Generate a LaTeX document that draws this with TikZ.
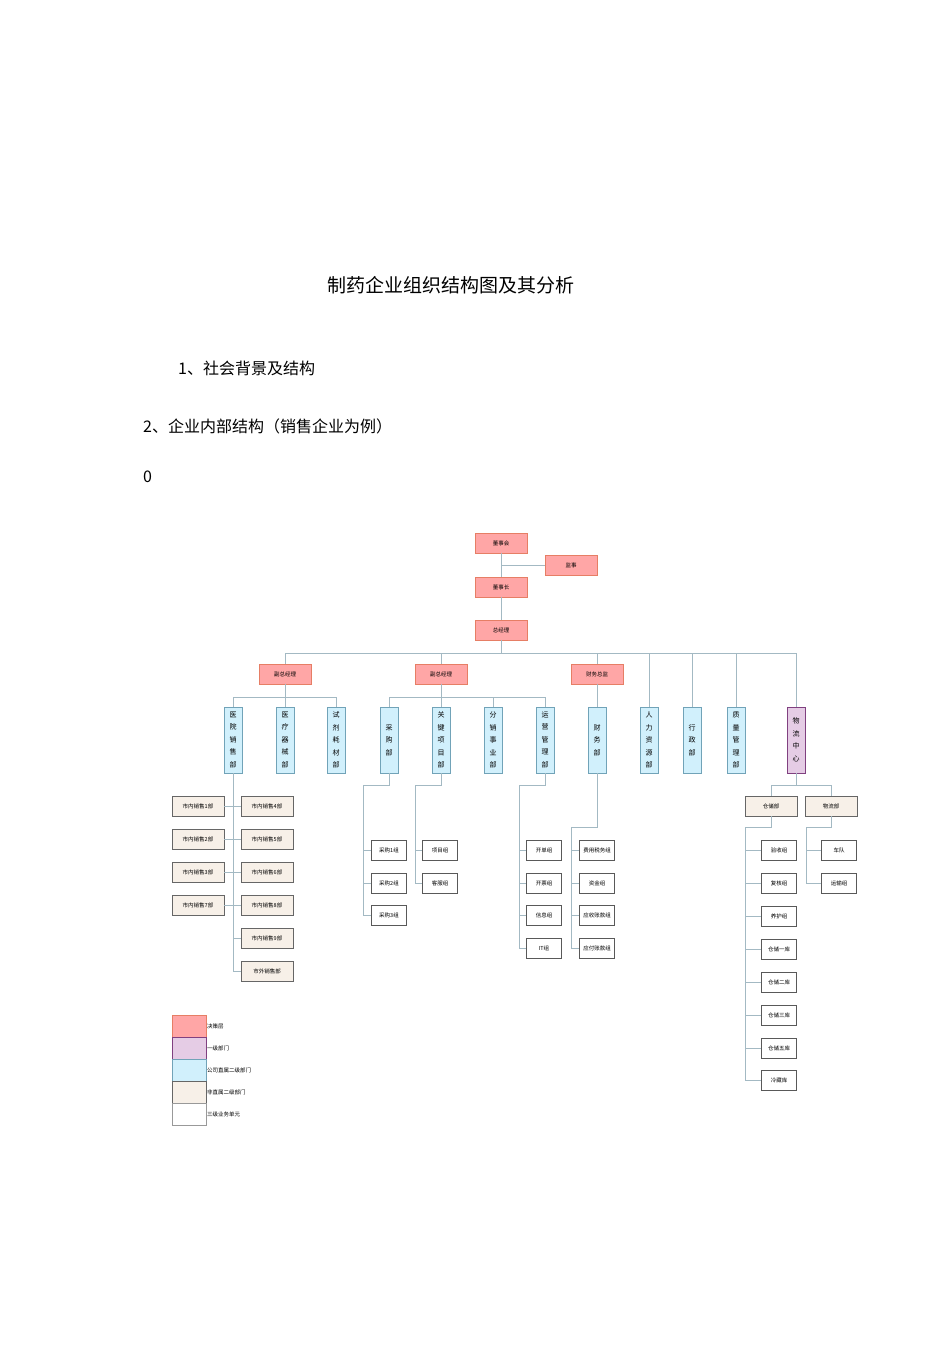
\documentclass[tikz,border=0pt]{standalone}
\usepackage{fontspec}
\setmainfont{Liberation Serif}
\newfontfamily\cjk{Noto Sans CJK SC}
\begin{document}
\begin{tikzpicture}[x=1pt,y=-1pt,
 every node/.style={font=\cjk, inner sep=0pt},
 box/.style={draw, line width=0.8pt, minimum height=20pt, font=\cjk\fontsize{5.5}{6}\selectfont},
 pinkbox/.style={box, fill=red!25!pink!80, draw=red!45!brown!70, minimum width=52pt},
 vbox/.style={box, fill=cyan!18!white, draw=cyan!40!gray, minimum width=18pt, minimum height=66pt, align=center, font=\cjk\fontsize{7}{12.5}\selectfont},
 pbox/.style={vbox, fill=violet!20!white, draw=violet!50!gray},
 bbox/.style={box, fill=brown!12!white, draw=black!60, minimum width=52pt},
 wbox/.style={box, fill=white, draw=black!65, minimum width=35pt},
 ln/.style={draw=cyan!25!gray!70, line width=0.8pt}]
\useasboundingbox (0,0) rectangle (950,1345);
\node[font=\cjk\fontsize{19}{20}\selectfont] (title) at (451,285) {制药企业组织结构图及其分析};
\node[anchor=west,font=\cjk\fontsize{16}{18}\selectfont] (t1) at (178,368) {1、社会背景及结构};
\node[anchor=west,font=\cjk\fontsize{16}{18}\selectfont] (t2) at (143,426) {2、企业内部结构（销售企业为例）};
\node[anchor=west,font=\cjk\fontsize{16}{18}\selectfont] (t3) at (143,477) {0};
% top
\node[pinkbox] (dsh) at (501,543) {董事会};
\node[pinkbox] (js) at (571,565) {监事};
\node[pinkbox] (dsz) at (501,587) {董事长};
\node[pinkbox] (zjl) at (501,630) {总经理};
\node[pinkbox] (f1) at (285,674) {副总经理};
\node[pinkbox] (f2) at (441,674) {副总经理};
\node[pinkbox] (cw) at (597,674) {财务总监};
\draw[ln] (dsh) -- (dsz); \draw[ln] (dsz) -- (zjl);
\coordinate (jsj) at (501,565); \draw[ln] (jsj) -- (js);
\coordinate (busL) at (285,653); \coordinate (busR) at (796,653);
\coordinate (busC) at (501,653);
\draw[ln] (zjl) -- (busC); \draw[ln] (busL) -- (busR);
% vertical boxes
\node[vbox] (v1) at (233,740) {医\\院\\销\\售\\部};
\node[vbox] (v2) at (285,740) {医\\疗\\器\\械\\部};
\node[vbox] (v3) at (336,740) {试\\剂\\耗\\材\\部};
\node[vbox] (v4) at (389,740) {采\\购\\部};
\node[vbox] (v5) at (441,740) {关\\键\\项\\目\\部};
\node[vbox] (v6) at (493,740) {分\\销\\事\\业\\部};
\node[vbox] (v7) at (545,740) {运\\营\\管\\理\\部};
\node[vbox] (v8) at (597,740) {财\\务\\部};
\node[vbox] (v9) at (649,740) {人\\力\\资\\源\\部};
\node[vbox] (v10) at (692,740) {行\\政\\部};
\node[vbox] (v11) at (736,740) {质\\量\\管\\理\\部};
\node[pbox] (v12) at (796,740) {物\\流\\中\\心};
\foreach \n/\x in {f1/285,f2/441,cw/597,v9/649,v10/692,v11/736,v12/796} {\coordinate (b\n) at (\x,653); \draw[ln] (b\n) -- (\n);}
\draw[ln] (f1) -- (v2); \draw[ln] (f2) -- (v5); \draw[ln] (cw) -- (v8);
\coordinate (s1a) at (233,697); \coordinate (s1b) at (336,697);
\draw[ln] (v1.north) -- (s1a) -- (s1b) -- (v3.north);
\coordinate (s2a) at (389,697); \coordinate (s2b) at (545,697);
\draw[ln] (v4.north) -- (s2a) -- (s2b) -- (v7.north);
\coordinate (s2c) at (493,697); \draw[ln] (s2c) -- (v6);
% left sales
\node[bbox] (a1) at (198,806) {市内销售1部};
\node[bbox] (a2) at (198,839) {市内销售2部};
\node[bbox] (a3) at (198,872) {市内销售3部};
\node[bbox] (a7) at (198,905) {市内销售7部};
\node[bbox] (a4) at (267,806) {市内销售4部};
\node[bbox] (a5) at (267,839) {市内销售5部};
\node[bbox] (a6) at (267,872) {市内销售6部};
\node[bbox] (a8) at (267,905) {市内销售8部};
\node[bbox] (a9) at (267,938) {市内销售9部};
\node[bbox] (aw) at (267,971) {市外销售部};
\coordinate (ae) at (233,971);
\draw[ln] (v1.south) -- (ae) -- (aw);
\foreach \l/\r/\y in {a1/a4/806,a2/a5/839,a3/a6/872,a7/a8/905} {\draw[ln] (\l) -- (\r);}
\coordinate (a9j) at (233,938); \draw[ln] (a9j) -- (a9);
% purchase
\node[wbox] (c1) at (389,850) {采购1组};
\node[wbox] (c2) at (389,883) {采购2组};
\node[wbox] (c3) at (389,915) {采购3组};
\coordinate (cA) at (389,785); \coordinate (cB) at (363,785); \coordinate (cC) at (363,915);
\draw[ln] (v4.south) -- (cA) -- (cB) -- (cC) -- (c3);
\foreach \n/\y in {c1/850,c2/883} {\coordinate (j\n) at (363,\y); \draw[ln] (j\n) -- (\n);}
\node[wbox] (p1) at (440,850) {项目组};
\node[wbox] (p2) at (440,883) {客服组};
\coordinate (pA) at (441,785); \coordinate (pB) at (415,785); \coordinate (pC) at (415,883);
\draw[ln] (v5.south) -- (pA) -- (pB) -- (pC) -- (p2);
\coordinate (jp1) at (415,850); \draw[ln] (jp1) -- (p1);
% operations
\node[wbox] (o1) at (544,850) {开单组};
\node[wbox] (o2) at (544,883) {开票组};
\node[wbox] (o3) at (544,915) {信息组};
\node[wbox] (o4) at (544,948) {IT组};
\coordinate (oA) at (545,785); \coordinate (oB) at (519,785); \coordinate (oC) at (519,948);
\draw[ln] (v7.south) -- (oA) -- (oB) -- (oC) -- (o4);
\foreach \n/\y in {o1/850,o2/883,o3/915} {\coordinate (j\n) at (519,\y); \draw[ln] (j\n) -- (\n);}
% finance
\node[wbox] (g1) at (597,850) {费用税务组};
\node[wbox] (g2) at (597,883) {资金组};
\node[wbox] (g3) at (597,915) {应收账款组};
\node[wbox] (g4) at (597,948) {应付账款组};
\coordinate (gA) at (597,827); \coordinate (gB) at (571,827); \coordinate (gC) at (571,948);
\draw[ln] (v8.south) -- (gA) -- (gB) -- (gC) -- (g4);
\foreach \n/\y in {g1/850,g2/883,g3/915} {\coordinate (j\n) at (571,\y); \draw[ln] (j\n) -- (\n);}
% logistics
\node[bbox] (ck) at (771,806) {仓储部};
\node[bbox] (wl) at (831,806) {物流部};
\coordinate (lA) at (796,785); \coordinate (lB) at (771,785); \coordinate (lC) at (831,785);
\draw[ln] (v12.south) -- (lA); \draw[ln] (ck.north) -- (lB) -- (lC) -- (wl.north);
\foreach \n/\t/\y in {k1/验收组/850,k2/复核组/883,k3/养护组/916,k4/仓储一库/949,k5/仓储二库/982,k6/仓储三库/1015,k7/仓储五库/1048,k8/冷藏库/1080} {\node[wbox] (\n) at (779,\y) {\t};}
\coordinate (kA) at (771,827); \coordinate (kB) at (745,827); \coordinate (kC) at (745,1080);
\draw[ln] (ck.south) -- (kA) -- (kB) -- (kC) -- (k8);
\foreach \n/\y in {k1/850,k2/883,k3/916,k4/949,k5/982,k6/1015,k7/1048} {\coordinate (j\n) at (745,\y); \draw[ln] (j\n) -- (\n);}
\node[wbox] (w1) at (839,850) {车队};
\node[wbox] (w2) at (839,883) {运输组};
\coordinate (wA) at (831,827); \coordinate (wB) at (806,827); \coordinate (wC) at (806,883);
\draw[ln] (wl.south) -- (wA) -- (wB) -- (wC) -- (w2);
\coordinate (jw1) at (806,850); \draw[ln] (jw1) -- (w1);
% legend
\tikzset{lg/.style={draw, line width=0.8pt, minimum width=34pt, minimum height=22pt, anchor=north west},
 lt/.style={anchor=west, font=\cjk\fontsize{5.5}{6}\selectfont}}
\node[lg, fill=red!25!pink!80, draw=red!45!brown!70] (L1) at (172,1015) {};
\node[lg, fill=violet!20!white, draw=violet!50!gray] (L2) at (172,1037) {};
\node[lg, fill=cyan!18!white, draw=cyan!40!gray] (L3) at (172,1059) {};
\node[lg, fill=brown!12!white, draw=black!60] (L4) at (172,1081) {};
\node[lg, fill=white, draw=black!40] (L5) at (172,1103) {};
\node[lt] (T1) at (L1.east) {决策层};
\node[lt] (T2) at (L2.east) {一级部门};
\node[lt] (T3) at (L3.east) {公司直属二级部门};
\node[lt] (T4) at (L4.east) {非直属二级部门};
\node[lt] (T5) at (L5.east) {三级业务单元};
\end{tikzpicture}
\end{document}
